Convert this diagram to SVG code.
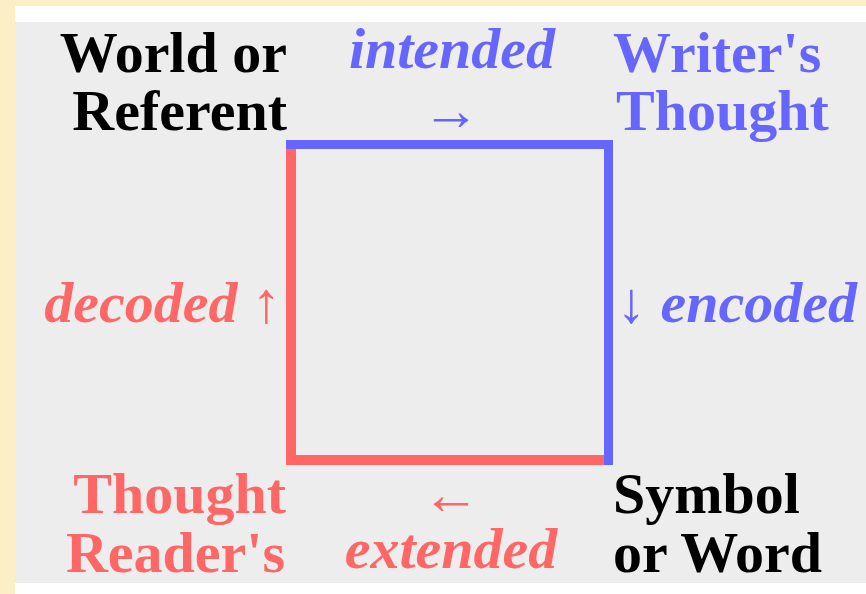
<svg xmlns="http://www.w3.org/2000/svg" width="866" height="594" viewBox="0 0 866 594">
<style>
.t{font-family:"Liberation Serif","Times New Roman",serif;font-size:58px;font-weight:bold}
.i{font-style:italic}
.k{fill:#000000}
.b{fill:#6666ff}
.r{fill:#ff6666}
</style>
<rect x="0" y="0" width="866" height="594" fill="#fcefc8"/>
<rect x="15" y="6" width="851" height="588" fill="#ffffff"/>
<rect x="15" y="22" width="851" height="561" fill="#ededed"/>
<g id="connectors">
<path d="M291 465 V145" fill="none" stroke="#ff6666" stroke-width="10"/>
<path d="M286 460 H608" fill="none" stroke="#ff6666" stroke-width="10"/>
<path d="M286 144.5 H608.5 V465" fill="none" stroke="#6666ff" stroke-width="9"/>
</g>
<g id="world">
<text class="t k" x="287" y="72" text-anchor="end">World or</text>
<text class="t k" x="287" y="130" text-anchor="end">Referent</text>
</g>
<g id="writer">
<text class="t b" x="613" y="72">Writer's</text>
<text class="t b" x="616" y="130">Thought</text>
</g>
<g id="symbol">
<text class="t k" x="613" y="513">Symbol</text>
<text class="t k" x="613" y="572">or Word</text>
</g>
<g id="reader">
<text class="t r" x="286" y="513" text-anchor="end">Thought</text>
<text class="t r" x="285" y="572" text-anchor="end">Reader's</text>
</g>
<g id="labels">
<text class="t i b" x="452" y="68" text-anchor="middle">intended</text>
<text class="t b" x="451" y="130" text-anchor="middle">→</text>
<text class="t i r" x="451" y="568" text-anchor="middle">extended</text>
<text class="t r" x="451" y="514" text-anchor="middle">←</text>
<text class="t i r" x="281" y="322" text-anchor="end">decoded ↑</text>
<text class="t i b" x="617" y="322">↓ encoded</text>
</g>
</svg>
